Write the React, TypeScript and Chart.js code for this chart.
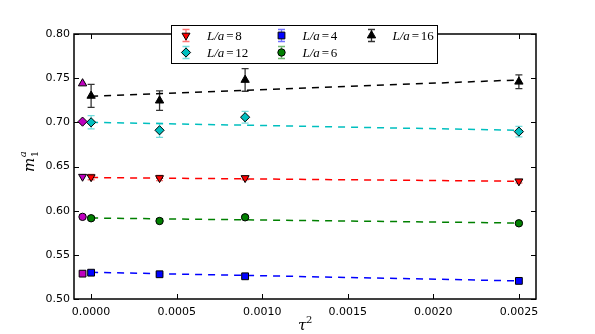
import React, { useEffect, useRef } from "react";
import { Chart, registerables } from "chart.js";
Chart.register(...registerables);

// ---- data ----
const X_TICKS = [0, 0.0005, 0.001, 0.0015, 0.002, 0.0025];
const Y_TICKS = [0.5, 0.55, 0.6, 0.65, 0.7, 0.75, 0.8];
const X_MIN = -0.0001;
const X_MAX = 0.0026;
const Y_MIN = 0.5;
const Y_MAX = 0.8;

const TAU2 = [0, 0.0004, 0.0009, 0.0025]; // first = extrapolated point
const CONT_X = -0.00005; // continuum values (magenta)
const FIT_X = [0, 0.0025];

const LABELS = ["L/a=8", "L/a=12", "L/a=4", "L/a=6", "L/a=16"];

const M_L8 = [0.638, 0.637, 0.637, 0.6333];
const E_L8 = [0.003, 0.003, 0.002, 0.002];
const M_L12 = [0.7, 0.691, 0.7058, 0.6895];
const E_L12 = [0.0075, 0.008, 0.0066, 0.006];
const M_L4 = [0.5298, 0.528, 0.5257, 0.5205];
const E_L4 = [0.0018, 0.0015, 0.0015, 0.0015];
const M_L6 = [0.5914, 0.5883, 0.5925, 0.5857];
const E_L6 = [0.002, 0.0015, 0.0015, 0.0015];
const M_L16 = [0.73, 0.7246, 0.748, 0.746];
const E_L16 = [0.013, 0.011, 0.0128, 0.0078];

const FIT_L8 = [0.6375, 0.6333];
const FIT_L12 = [0.7, 0.691];
const FIT_L4 = [0.5302, 0.5205];
const FIT_L6 = [0.5917, 0.586];
const FIT_L16 = [0.7295, 0.748];

const CONT_VALUES = [0.6385, 0.7008, 0.5287, 0.593, 0.744];

// ---- styles ----
const SERIES = [
  { m: M_L8, e: E_L8, fit: FIT_L8, color: "#ff0000", err: "rgba(255,0,0,0.55)", style: "triangle", rot: 180, r: 4.6 },
  { m: M_L12, e: E_L12, fit: FIT_L12, color: "#00bfbf", err: "rgba(0,191,191,0.55)", style: "rectRot", rot: 0, r: 4.6 },
  { m: M_L4, e: E_L4, fit: FIT_L4, color: "#0000ff", err: "rgba(0,0,255,0.55)", style: "rect", rot: 0, r: 4.8 },
  { m: M_L6, e: E_L6, fit: FIT_L6, color: "#008000", err: "rgba(0,128,0,0.55)", style: "circle", rot: 0, r: 3.7 },
  { m: M_L16, e: E_L16, fit: FIT_L16, color: "#000000", err: "rgba(0,0,0,0.8)", style: "triangle", rot: 0, r: 4.8 },
];
const MAGENTA = "#bf00bf";

function drawMarker(ctx: CanvasRenderingContext2D, style: string, rot: number, x: number, y: number, r: number, fill: string) {
  ctx.save();
  ctx.fillStyle = fill;
  ctx.strokeStyle = "#000";
  ctx.lineWidth = 1;
  ctx.beginPath();
  if (style === "circle") {
    ctx.arc(x, y, r, 0, Math.PI * 2);
  } else if (style === "rect") {
    const s = Math.SQRT1_2 * r;
    ctx.rect(x - s, y - s, 2 * s, 2 * s);
  } else if (style === "rectRot") {
    ctx.moveTo(x, y - r);
    ctx.lineTo(x + r, y);
    ctx.lineTo(x, y + r);
    ctx.lineTo(x - r, y);
    ctx.closePath();
  } else {
    let a = (rot * Math.PI) / 180;
    ctx.moveTo(x + Math.sin(a) * r, y - Math.cos(a) * r);
    a += (2 * Math.PI) / 3;
    ctx.lineTo(x + Math.sin(a) * r, y - Math.cos(a) * r);
    a += (2 * Math.PI) / 3;
    ctx.lineTo(x + Math.sin(a) * r, y - Math.cos(a) * r);
    ctx.closePath();
  }
  ctx.fill();
  ctx.stroke();
  ctx.restore();
}

function drawErrBar(ctx: CanvasRenderingContext2D, x: number, y1: number, y2: number, color: string) {
  ctx.save();
  ctx.strokeStyle = color;
  ctx.lineWidth = 1.3;
  ctx.beginPath();
  ctx.moveTo(x, y1);
  ctx.lineTo(x, y2);
  ctx.moveTo(x - 3.5, y1);
  ctx.lineTo(x + 3.5, y1);
  ctx.moveTo(x - 3.5, y2);
  ctx.lineTo(x + 3.5, y2);
  ctx.stroke();
  ctx.restore();
}

const errorBarPlugin = {
  id: "errorBars",
  beforeDatasetsDraw(chart: any) {
    const ctx = chart.ctx;
    const xs = chart.scales.x;
    const ys = chart.scales.y;
    chart.data.datasets.forEach((ds: any) => {
      if (!ds.errors) return;
      ds.data.forEach((p: any, i: number) => {
        const px = xs.getPixelForValue(p.x);
        const e = ds.errors[i];
        drawErrBar(ctx, px, ys.getPixelForValue(p.y + e), ys.getPixelForValue(p.y - e), ds.errColor);
      });
    });
  },
};

const framePlugin = {
  id: "frame",
  afterDraw(chart: any) {
    const ctx = chart.ctx;
    const { left, right, top, bottom } = chart.chartArea;
    const xs = chart.scales.x;
    const ys = chart.scales.y;
    ctx.save();
    ctx.strokeStyle = "#000";
    ctx.lineWidth = 1;
    ctx.beginPath();
    X_TICKS.forEach((v) => {
      const px = Math.round(xs.getPixelForValue(v)) + 0.5;
      ctx.moveTo(px, bottom);
      ctx.lineTo(px, bottom - 5);
      ctx.moveTo(px, top);
      ctx.lineTo(px, top + 5);
    });
    Y_TICKS.forEach((v) => {
      const py = Math.round(ys.getPixelForValue(v)) + 0.5;
      ctx.moveTo(left, py);
      ctx.lineTo(left + 5, py);
      ctx.moveTo(right, py);
      ctx.lineTo(right - 5, py);
    });
    ctx.stroke();
    ctx.lineWidth = 1.5;
    ctx.strokeRect(left, top, right - left, bottom - top);

    // axis titles
    ctx.fillStyle = "#000";
    ctx.textBaseline = "alphabetic";
    ctx.textAlign = "left";
    const cx = (left + right) / 2;
    ctx.font = "italic 15px 'DejaVu Serif'";
    ctx.fillText("τ", cx - 7, 330);
    ctx.font = "10px 'DejaVu Serif'";
    ctx.fillText("2", cx + 1, 323);

    ctx.save();
    ctx.translate(34, 172);
    ctx.rotate(-Math.PI / 2);
    ctx.font = "italic 15px 'DejaVu Serif'";
    ctx.fillText("m", 0, 0);
    const mw = ctx.measureText("m").width;
    ctx.font = "10px 'DejaVu Serif'";
    ctx.fillText("1", mw + 0.5, 4);
    ctx.font = "italic 10px 'DejaVu Serif'";
    ctx.fillText("a", mw + 0.5, -8);
    ctx.restore();

    // legend
    const bx = 171, by = 25, bw = 266, bh = 38;
    ctx.fillStyle = "#fff";
    ctx.fillRect(bx, by, bw, bh);
    ctx.strokeStyle = "#000";
    ctx.lineWidth = 1;
    ctx.strokeRect(bx + 0.5, by + 0.5, bw, bh);
    const colX = [186, 281.5, 371.5];
    const rowY = [35.5, 52.5];
    LABELS.forEach((lab, i) => {
      const col = Math.floor(i / 2);
      const row = i % 2;
      const mx = colX[col];
      const my = rowY[row];
      const s = SERIES[i];
      drawErrBar(ctx, mx, my - 6, my + 6, s.err);
      drawMarker(ctx, s.style, s.rot, mx, my, s.r, s.color);
      const parts = lab.split("=");
      let tx = mx + 21;
      ctx.fillStyle = "#000";
      ctx.textBaseline = "middle";
      ctx.font = "italic 13px 'Liberation Serif'";
      ctx.fillText(parts[0], tx, my + 1);
      tx += ctx.measureText(parts[0]).width + 2;
      ctx.font = "13px 'Liberation Serif'";
      ctx.fillText("=", tx, my + 1);
      tx += ctx.measureText("=").width + 1.5;
      ctx.fillText(parts[1], tx, my + 1);
    });
    ctx.restore();
  },
};

export default function App() {
  const ref = useRef<HTMLCanvasElement | null>(null);
  useEffect(() => {
    if (!ref.current) return;
    const datasets: any[] = [];
    SERIES.forEach((s) => {
      datasets.push({
        data: FIT_X.map((x, i) => ({ x, y: s.fit[i] })),
        showLine: true,
        borderColor: s.color,
        borderWidth: 1.5,
        borderDash: [7, 6],
        pointRadius: 0,
        order: 3,
      });
    });
    SERIES.forEach((s, k) => {
      datasets.push({
        data: [{ x: CONT_X, y: CONT_VALUES[k] }],
        pointStyle: s.style,
        rotation: s.rot,
        pointRadius: s.r,
        backgroundColor: MAGENTA,
        borderColor: "#000",
        borderWidth: 1,
        order: 1,
      });
      datasets.push({
        data: TAU2.map((x, i) => ({ x, y: s.m[i] })),
        errors: s.e,
        errColor: s.err,
        pointStyle: s.style,
        rotation: s.rot,
        pointRadius: s.r,
        backgroundColor: s.color,
        borderColor: "#000",
        borderWidth: 1,
        order: 1,
      });
    });
    const chart = new Chart(ref.current, {
      type: "scatter",
      data: { datasets },
      options: {
        responsive: false,
        animation: false,
        layout: { padding: { left: 0, top: 34, right: 59, bottom: 0 } },
        plugins: { legend: { display: false }, tooltip: { enabled: false } },
        scales: {
          x: {
            type: "linear",
            min: X_MIN,
            max: X_MAX,
            grid: { display: false, drawTicks: false },
            border: { display: false },
            afterBuildTicks: (s: any) => {
              s.ticks = X_TICKS.map((v) => ({ value: v }));
            },
            afterFit: (s: any) => {
              s.height = 35;
            },
            ticks: {
              callback: (v: any) => Number(v).toFixed(4),
              font: { family: "'DejaVu Sans'", size: 11 },
              color: "#000",
              padding: 7,
              maxRotation: 0,
              autoSkip: false,
            },
          },
          y: {
            type: "linear",
            min: Y_MIN,
            max: Y_MAX,
            grid: { display: false, drawTicks: false },
            border: { display: false },
            afterBuildTicks: (s: any) => {
              s.ticks = Y_TICKS.map((v) => ({ value: v }));
            },
            afterFit: (s: any) => {
              s.width = 74;
            },
            ticks: {
              callback: (v: any) => Number(v).toFixed(2),
              font: { family: "'DejaVu Sans'", size: 11 },
              color: "#000",
              padding: 4,
              autoSkip: false,
            },
          },
        },
      } as any,
      plugins: [errorBarPlugin, framePlugin],
    });
    return () => chart.destroy();
  }, []);
  return (
    <div style={{ position: "fixed", left: 0, top: 0, width: 595, height: 334, background: "#fff" }}>
      <canvas ref={ref} width={595} height={334} style={{ width: 595, height: 334, display: "block" }} />
    </div>
  );
}
